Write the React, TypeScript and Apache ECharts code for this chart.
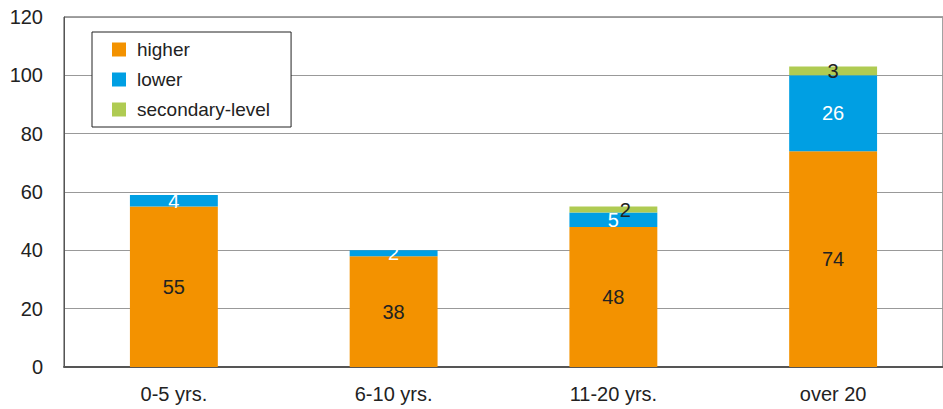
import React, { useEffect, useRef } from "react";
import * as echarts from "echarts";

const categories = ["0-5 yrs.", "6-10 yrs.", "11-20 yrs.", "over 20"];
const higher = [55, 38, 48, 74];
const lower = [4, 2, 5, 26];
const secondary = [null, null, 2, 3];
const yTicks = { min: 0, max: 120, interval: 20 };

const FONT = "'Liberation Sans', Arial, sans-serif";

export default function App() {
  const ref = useRef<HTMLDivElement>(null);
  useEffect(() => {
    if (!ref.current) return;
    const chart = echarts.init(ref.current, null, { renderer: "svg" });
    const lbl = (color: string) => ({
      show: true,
      position: "inside",
      color,
      fontSize: 20,
      fontFamily: FONT,
      formatter: (p: any) => (p.value == null ? "" : String(p.value)),
    });
    // the small secondary label in the 3rd bar sits slightly to the right in the reference
    const secondaryData = secondary.map((v, i) =>
      i === 2 ? { value: v, label: { offset: [12, 0] } } : v
    );
    chart.setOption({
      animation: false,
      textStyle: { fontFamily: FONT },
      grid: {
        left: 64,
        right: -7,
        top: 17,
        bottom: 42,
        show: true,
        borderColor: "#444",
        borderWidth: 1,
        backgroundColor: "transparent",
      },
      legend: {
        orient: "vertical",
        left: 92,
        top: 32,
        itemWidth: 14,
        itemHeight: 14,
        itemGap: 11,
        padding: [8, 21, 8, 20],
        borderColor: "#222",
        borderWidth: 1,
        backgroundColor: "#fff",
        icon: "rect",
        textStyle: {
          fontSize: 19,
          color: "#222",
          fontFamily: FONT,
          padding: [0, 0, 0, 6],
        },
        data: ["higher", "lower", "secondary-level"],
      },
      xAxis: {
        type: "category",
        data: categories,
        axisTick: { show: false },
        axisLine: { show: true, lineStyle: { color: "#555", width: 2 } },
        axisLabel: { fontSize: 20, color: "#222", margin: 17, fontFamily: FONT },
      },
      yAxis: {
        type: "value",
        min: yTicks.min,
        max: yTicks.max,
        interval: yTicks.interval,
        axisLine: { show: true, lineStyle: { color: "#555" } },
        axisTick: { show: false },
        axisLabel: { fontSize: 20, color: "#222", margin: 21, fontFamily: FONT },
        splitLine: { show: true, lineStyle: { color: "#999", width: 1 } },
      },
      series: [
        {
          name: "higher",
          type: "bar",
          stack: "s",
          data: higher,
          barWidth: "40%",
          itemStyle: { color: "#F39200" },
          label: lbl("#222"),
        },
        {
          name: "lower",
          type: "bar",
          stack: "s",
          data: lower,
          itemStyle: { color: "#009FE3" },
          label: lbl("#fff"),
        },
        {
          name: "secondary-level",
          type: "bar",
          stack: "s",
          data: secondaryData,
          itemStyle: { color: "#AFCB52" },
          label: lbl("#222"),
        },
      ],
    });
    return () => chart.dispose();
  }, []);
  return <div ref={ref} style={{ width: 943, height: 409 }} />;
}

if (typeof document !== "undefined") {
  document.body.style.margin = "0";
}
